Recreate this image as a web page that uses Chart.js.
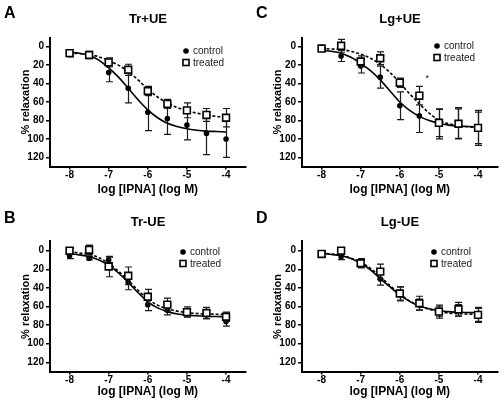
<!DOCTYPE html>
<html><head><meta charset="utf-8">
<script src="https://cdn.jsdelivr.net/npm/chart.js@4.4.0/dist/chart.umd.min.js"></script>
<style>
html,body{margin:0;padding:0;background:#fff;}
body{width:504px;height:400px;position:relative;overflow:hidden;font-family:"Liberation Sans",Arial,sans-serif;}
.panel{position:absolute;width:252px;height:200px;}
.panel canvas{position:absolute;left:0;top:0;}
.letter{position:absolute;font-weight:bold;font-size:16px;color:#000;line-height:1;}
.ptitle{position:absolute;font-weight:bold;font-size:13px;color:#000;line-height:1;text-align:center;width:120px;}
</style></head>
<body>
<div class="panel" style="left:0;top:0"><canvas id="cA" width="252" height="200"></canvas><div class="letter" style="left:4px;top:5px">A</div><div class="ptitle" id="tA" style="left:88px;top:12px"></div></div>
<div class="panel" style="left:252px;top:0"><canvas id="cC" width="252" height="200"></canvas><div class="letter" style="left:4px;top:5px">C</div><div class="ptitle" id="tC" style="left:88px;top:12px"></div></div>
<div class="panel" style="left:0;top:200px"><canvas id="cB" width="252" height="200"></canvas><div class="letter" style="left:4px;top:10px">B</div><div class="ptitle" id="tB" style="left:88px;top:15px"></div></div>
<div class="panel" style="left:252px;top:200px"><canvas id="cD" width="252" height="200"></canvas><div class="letter" style="left:4px;top:10px">D</div><div class="ptitle" id="tD" style="left:88px;top:15px"></div></div>
<script>
// ---------- data ----------
const doseX = [-8, -7.5, -7, -6.5, -6, -5.5, -5, -4.5, -4];
const fitX = [-8, -7.75, -7.5, -7.25, -7, -6.75, -6.5, -6.25, -6, -5.75, -5.5, -5.25, -5, -4.75, -4.5, -4.25, -4];
const xTicks = [-8, -7, -6, -5, -4];
const yTicks = [0, 20, 40, 60, 80, 100, 120];
const seriesLabels = ['control', 'treated'];
const xTitle = 'log [IPNA] (log M)';
const yTitle = '% relaxation';

// A: Tr+UE
const trPlusTitle = 'Tr+UE';
const trPlusCtrl = [6, 9, 28, 45, 71, 78, 85, 94, 100];
const trPlusCtrlErr = [3, 4, 10, 16, 20, 17, 16, 23, 20];
const trPlusTrt = [7, 9, 17, 25, 48, 62, 69, 74, 77];
const trPlusTrtErr = [4, 3, 5, 6, 5, 5, 8, 7, 10];
const trPlusCtrlFit = [6, 7, 9.5, 14.5, 23, 33, 45, 57.5, 68.5, 77, 83, 86.5, 89, 90.5, 91.5, 92, 92.5];
const trPlusTrtFit = [7, 7.5, 8.5, 11, 15, 20, 27, 36, 46, 54.5, 61, 66, 69.5, 72, 74, 75.5, 76.5];

// C: Lg+UE
const lgPlusTitle = 'Lg+UE';
const lgPlusCtrl = [3, 10, 21, 33, 64, 75, 84, 83, 88];
const lgPlusCtrlErr = [1, 6, 7.5, 12, 15, 18, 16, 17, 19];
const lgPlusTrt = [2, -1, 16, 12.5, 39, 53, 82.5, 83.5, 88];
const lgPlusTrtErr = [1, 7, 6, 7, 5, 10, 15, 16, 17];
const lgPlusCtrlFit = [4, 5, 7, 11.5, 18, 26, 36, 48, 60, 69, 75.5, 80, 83, 85, 86, 86.5, 87];
const lgPlusTrtFit = [2, 2.5, 3, 5, 8, 12.5, 19, 28, 39, 51, 62, 72, 79.5, 83.5, 85.5, 86.8, 87.5];
const lgPlusStar = [-5.3, 32];

// B: Tr-UE
const trMinusTitle = 'Tr-UE';
const trMinusCtrl = [5.5, 8, 10, 34, 58, 64, 67, 69, 76];
const trMinusCtrlErr = [3, 2, 3, 8, 6.5, 5, 4, 4, 5];
const trMinusTrt = [0, -1, 17, 27, 49.5, 58, 66, 67, 71];
const trMinusTrtErr = [3, 5, 11, 9.5, 8, 7, 5.5, 6, 5];
const trMinusCtrlFit = [3, 4.5, 6.5, 10, 15.5, 24, 34, 45, 55, 61.5, 65.5, 68, 69.3, 70, 70.5, 70.8, 71];
const trMinusTrtFit = [1, 2.5, 4, 7.5, 13.5, 22, 32, 42.5, 52, 58.5, 62.5, 65, 66.5, 67.5, 68, 68.3, 68.5];

// D: Lg-UE
const lgMinusTitle = 'Lg-UE';
const lgMinusCtrl = [4.5, 6.5, 12.5, 30.5, 46.5, 58, 65.5, 64, 69];
const lgMinusCtrlErr = [2, 3, 4, 6.5, 7.5, 6, 5, 6, 7];
const lgMinusTrt = [3.5, 0, 13.5, 22.5, 46, 56.5, 65.5, 63, 69];
const lgMinusTrtErr = [3, 2, 5, 8, 7, 7.5, 7, 7.5, 8];
const lgMinusCtrlFit = [3, 4, 5.5, 8.5, 13.5, 20.5, 30, 39, 47.5, 54.5, 59.5, 62.5, 64.5, 65.5, 66.2, 66.5, 66.7];
const lgMinusTrtFit = [3, 3.5, 5, 8, 12.5, 19, 28, 37.5, 46.5, 54, 59.5, 63, 65.5, 67, 67.8, 68.2, 68.5];

// ---------- plugins ----------
const FONT = '"Liberation Sans", Arial, sans-serif';
const errPlugin = {
  id: 'errBars',
  beforeDatasetDraw(chart, args) {
    const ds = chart.data.datasets[args.index];
    if (!ds.errors) return;
    const xs = chart.scales.x, ys = chart.scales.y, ctx = chart.ctx;
    ctx.save();
    ctx.strokeStyle = '#1a1a1a'; ctx.lineWidth = 1.2;
    ds.data.forEach((p, i) => {
      const e = ds.errors[i];
      const px = Math.round(xs.getPixelForValue(p.x)) + 0.5;
      const y1 = ys.getPixelForValue(p.y - e), y2 = ys.getPixelForValue(p.y + e);
      ctx.beginPath();
      ctx.moveTo(px, y1); ctx.lineTo(px, y2);
      ctx.moveTo(px - 3.5, y1); ctx.lineTo(px + 3.5, y1);
      ctx.moveTo(px - 3.5, y2); ctx.lineTo(px + 3.5, y2);
      ctx.stroke();
    });
    ctx.restore();
  }
};
const legendPlugin = {
  id: 'panelLegend',
  afterDraw(chart, args, opts) {
    if (opts.x === undefined) return;
    const ctx = chart.ctx;
    ctx.save();
    ctx.font = '10px ' + FONT;
    ctx.textBaseline = 'middle';
    const items = chart.data.datasets.filter(d => d.legendMark);
    items.forEach((ds, i) => {
      const y = opts.y + i * opts.dy, x = opts.x;
      if (ds.legendMark === 'circle') {
        ctx.beginPath(); ctx.arc(x, y, 2.8, 0, Math.PI * 2); ctx.fillStyle = '#000'; ctx.fill();
      } else {
        ctx.fillStyle = '#fff'; ctx.strokeStyle = '#000'; ctx.lineWidth = 1.6;
        ctx.fillRect(x - 3, y - 3, 6, 6); ctx.strokeRect(x - 3, y - 3, 6, 6);
      }
      ctx.fillStyle = '#222';
      ctx.fillText(ds.label, x + 7, y + 0.5);
    });
    ctx.restore();
  }
};
const starPlugin = {
  id: 'starMark',
  afterDatasetsDraw(chart, args, opts) {
    if (!opts.point) return;
    const ctx = chart.ctx;
    ctx.save();
    ctx.font = '9px ' + FONT; ctx.fillStyle = '#222';
    ctx.textAlign = 'center'; ctx.textBaseline = 'middle';
    ctx.fillText('*', chart.scales.x.getPixelForValue(opts.point[0]), chart.scales.y.getPixelForValue(opts.point[1]) + 2);
    ctx.restore();
  }
};
Chart.register(errPlugin, legendPlugin, starPlugin);

function pts(xs, ys) { return xs.map((x, i) => ({x: x, y: ys[i]})); }

function makePanel(id, titleId, title, ctrl, ctrlErr, trt, trtErr, ctrlFit, trtFit, lay, star) {
  document.getElementById(titleId).textContent = title;
  const tickFont = {family: FONT, size: 10, weight: 'bold'};
  new Chart(document.getElementById(id), {
    type: 'line',
    data: {
      datasets: [
        {label: 'ctrlFit', data: pts(fitX, ctrlFit), borderColor: '#000', borderWidth: 1.6, pointRadius: 0, cubicInterpolationMode: 'monotone', fill: false, order: 3},
        {label: 'trtFit', data: pts(fitX, trtFit), borderColor: '#000', borderWidth: 1.6, borderDash: [3, 2], pointRadius: 0, cubicInterpolationMode: 'monotone', fill: false, order: 2},
        {label: seriesLabels[0], legendMark: 'circle', data: pts(doseX, ctrl), errors: ctrlErr, showLine: false, pointStyle: 'circle', pointRadius: 2.8, pointBackgroundColor: '#000', pointBorderColor: '#000', pointBorderWidth: 0, order: 1},
        {label: seriesLabels[1], legendMark: 'rect', data: pts(doseX, trt), errors: trtErr, showLine: false, pointStyle: 'rect', pointRadius: 4.8, pointBackgroundColor: '#fff', pointBorderColor: '#000', pointBorderWidth: 1.6, order: 0}
      ]
    },
    options: {
      responsive: false, animation: false, events: [],
      layout: {padding: {top: lay.top, right: 6.4, bottom: 0, left: 0}},
      plugins: {
        legend: {display: false}, tooltip: {enabled: false},
        panelLegend: {x: lay.lx, y: lay.ly, dy: 11.5},
        starMark: {point: star}
      },
      scales: {
        x: {
          type: 'linear', min: -8.5, max: -3.5,
          afterBuildTicks: s => { s.ticks = xTicks.map(v => ({value: v})); },
          afterFit: s => { s.height = lay.xh; },
          ticks: {font: tickFont, color: '#000', padding: 0, maxRotation: 0, callback: v => String(v)},
          grid: {drawOnChartArea: false, drawTicks: true, tickLength: 3, color: '#000', lineWidth: 1.5},
          border: {color: '#000', width: 2},
          title: {display: true, text: xTitle, color: '#000', font: {family: FONT, size: 12, weight: 'bold'}, padding: {top: 0, bottom: lay.xtp}}
        },
        y: {
          type: 'linear', reverse: true, min: -10, max: 130,
          afterBuildTicks: s => { s.ticks = yTicks.map(v => ({value: v})); },
          afterFit: s => { s.width = 50; },
          ticks: {font: tickFont, color: '#000', padding: 2, callback: v => String(v)},
          grid: {drawOnChartArea: false, drawTicks: true, tickLength: 4, color: '#000', lineWidth: 1.5},
          border: {color: '#000', width: 2},
          title: {display: true, text: yTitle, color: '#000', font: {family: FONT, size: 11, weight: 'bold'}, padding: {top: 19, bottom: 0}}
        }
      }
    }
  });
}

const topLay = {top: 37.5, xh: 33.4, xtp: 3.5, lx: 186, ly: 51};
const botLay = {top: 41.4, xh: 28.4, xtp: 1, lx: 183, ly: 52};
makePanel('cA', 'tA', trPlusTitle, trPlusCtrl, trPlusCtrlErr, trPlusTrt, trPlusTrtErr, trPlusCtrlFit, trPlusTrtFit, topLay, null);
makePanel('cC', 'tC', lgPlusTitle, lgPlusCtrl, lgPlusCtrlErr, lgPlusTrt, lgPlusTrtErr, lgPlusCtrlFit, lgPlusTrtFit, {top: 37.5, xh: 33.4, xtp: 3.5, lx: 185, ly: 46}, lgPlusStar);
makePanel('cB', 'tB', trMinusTitle, trMinusCtrl, trMinusCtrlErr, trMinusTrt, trMinusTrtErr, trMinusCtrlFit, trMinusTrtFit, botLay, null);
makePanel('cD', 'tD', lgMinusTitle, lgMinusCtrl, lgMinusCtrlErr, lgMinusTrt, lgMinusTrtErr, lgMinusCtrlFit, lgMinusTrtFit, {top: 41.4, xh: 28.4, xtp: 1, lx: 182, ly: 52}, null);
</script>
</body></html>
